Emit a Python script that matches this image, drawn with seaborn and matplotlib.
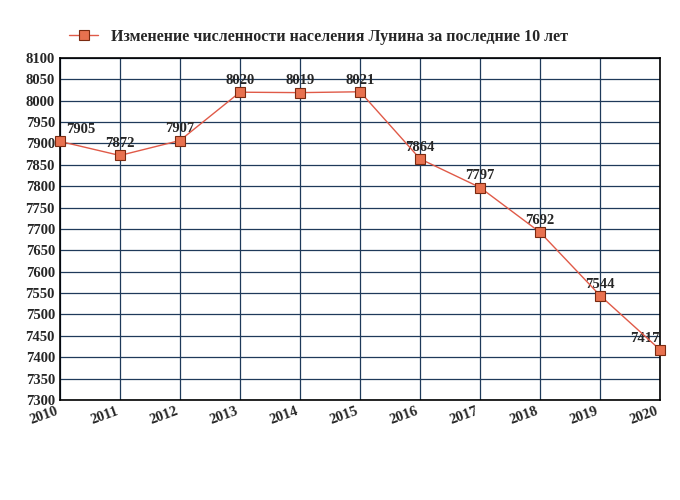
import matplotlib
matplotlib.use("Agg")
import matplotlib.pyplot as plt
import seaborn as sns

years = [2010, 2011, 2012, 2013, 2014, 2015, 2016, 2017, 2018, 2019, 2020]
population = [7905, 7872, 7907, 8020, 8019, 8021, 7864, 7797, 7692, 7544, 7417]
label = "Изменение численности населения Лунина за последние 10 лет"

sns.set_style("white")
plt.rcParams["font.family"] = "Liberation Serif"

fig = plt.figure(figsize=(6.8, 5.0), dpi=100)
ax = fig.add_axes([0.088, 0.2, 0.883, 0.684])

sns.lineplot(x=years, y=population, ax=ax, color="#e05a48", linewidth=1,
             marker="s", markersize=7, markerfacecolor="#e8714f",
             markeredgecolor="#7a2a10", markeredgewidth=0.8, label=label,
             clip_on=False, zorder=5)

for x, y in zip(years, population):
    dx = {2010: 0.35, 2020: -0.25}.get(x, 0)
    ax.text(x + dx, y + 12, str(y), ha="center", va="bottom",
            fontsize=10.5, fontweight="bold")

ax.set_xlim(2010, 2020)
ax.set_ylim(7300, 8100)
ax.set_xticks(years)
ax.set_yticks(range(7300, 8101, 50))
ax.grid(True, color="#1f3a5a", linewidth=0.9)
for s in ax.spines.values():
    s.set_color("black")
    s.set_linewidth(1.2)
ax.tick_params(axis="both", labelsize=10.5, length=0)
for t in ax.get_yticklabels():
    t.set_fontweight("bold")
for t in ax.get_xticklabels():
    t.set_fontweight("bold")
    t.set_rotation(20)
    t.set_ha("right")

ax.legend(loc="lower left", bbox_to_anchor=(0.0, 1.01), frameon=False,
          prop={"size": 11.5, "weight": "bold"}, handlelength=1.8,
          borderaxespad=0.2)

fig.savefig("out.png", dpi=100)
